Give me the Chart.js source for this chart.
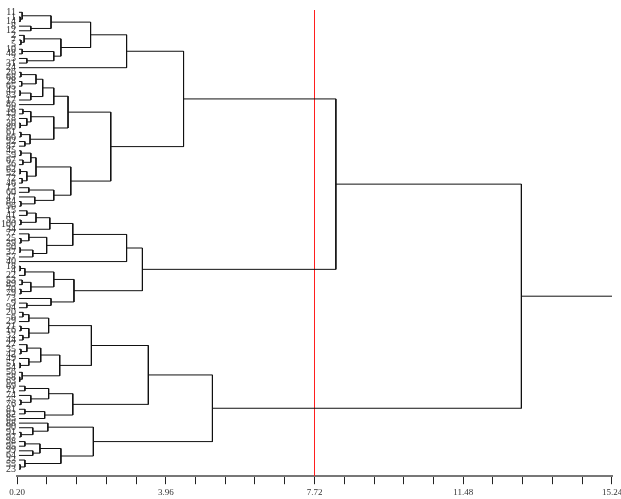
<!DOCTYPE html>
<html>
<head>
<meta charset="utf-8">
<script src="https://cdn.jsdelivr.net/npm/chart.js@4.4.0/dist/chart.umd.min.js"></script>
<style>
  html, body { margin: 0; padding: 0; background: #fff; }
  #wrap { width: 621px; height: 499px; }
</style>
</head>
<body>
<div id="wrap"><canvas id="dendro"></canvas></div>
<script>
// leaf labels, top to bottom
var leafLabels = [
  '11','1','14','8','12','2','7','5','10','48','3','31','24',
  '26','68','28','65','43','83','17','86','38','19','78','30','80','61','66','92','87',
  '45','59','67','36','62','52','72','46','13','60','47','84','96',
  '15','41','93','100','34','77','25','39','50','37','57','40',
  '18','4','22','53','89','70','79','73','9','94',
  '20','6','29','21','16','32','44','27','35','42','49','51','54','56','58','63',
  '69','71','74','75','76','81','82','85',
  '88','90','91','97','98','95','99','64','33','55','23'
];

// merges: [first leaf, first leaf of lower child, last leaf, height]
var merges = [
  [0,65,99,12.95],
  [0,43,64,8.26], [65,89,99,5.14],
  [0,13,42,4.41], [43,55,64,3.37],
  [0,12,12,2.97], [0,5,11,2.06], [0,3,4,1.06], [0,1,2,0.33], [1,2,2,0.28], [3,4,4,0.55],
  [5,8,11,1.31], [5,6,7,0.38], [6,7,7,0.30], [8,10,11,1.13], [8,9,9,0.33], [10,11,11,0.45],
  [13,30,42,2.57], [13,21,29,1.49], [13,20,20,1.13], [13,17,19,0.85], [13,15,16,0.68],
  [13,14,14,0.30], [15,16,16,0.32], [17,19,19,0.55], [17,18,18,0.28],
  [21,26,29,1.13], [21,23,25,0.55], [21,22,22,0.35], [23,24,25,0.45], [24,25,25,0.28],
  [26,28,29,0.53], [26,27,27,0.30], [28,29,29,0.40],
  [30,38,42,1.56], [30,34,37,0.68], [30,32,33,0.55], [30,31,31,0.30], [32,33,33,0.35],
  [34,36,37,0.45], [34,35,35,0.28], [36,37,37,0.33],
  [38,40,42,1.13], [38,39,39,0.50], [40,41,42,0.65], [41,42,42,0.30],
  [43,54,54,2.97], [43,48,53,1.61], [43,47,47,1.03], [43,45,46,0.68], [43,44,44,0.45],
  [45,46,46,0.30], [48,51,53,0.95], [48,49,50,0.50], [49,50,50,0.30], [51,53,53,0.60],
  [51,52,52,0.28],
  [55,62,64,1.64], [55,58,61,1.13], [55,57,57,0.40], [55,56,56,0.28], [58,60,61,0.55],
  [58,59,59,0.33], [60,61,61,0.30], [62,63,64,1.06], [63,64,64,0.45],
  [65,81,88,3.52], [65,72,80,2.08], [65,68,71,1.00], [65,67,67,0.50], [65,66,66,0.35],
  [68,70,71,0.50], [68,69,69,0.30], [70,71,71,0.35],
  [72,78,80,1.28], [72,75,77,0.80], [72,73,74,0.45], [73,74,74,0.30], [75,76,77,0.50],
  [76,77,77,0.28], [78,79,80,0.33], [79,80,80,0.27],
  [81,86,88,1.61], [81,83,85,1.00], [81,82,82,0.40], [83,84,85,0.55], [84,85,85,0.30],
  [86,88,88,0.90], [86,87,87,0.40],
  [89,93,99,2.13], [89,90,92,0.98], [90,91,92,0.60], [91,92,92,0.30],
  [93,97,99,1.31], [93,95,96,0.78], [93,94,94,0.40], [95,96,96,0.60],
  [97,98,99,0.40], [98,99,99,0.28]
];

var leafHeight = 0.25;
var cutHeight = 7.72;
var axisMin = 0.20, axisMax = 15.24, axisStep = 0.752;
var tickLabels = ['0.20', '3.96', '7.72', '11.48', '15.24'];

var nodes = {};
merges.forEach(function(m){ nodes[m[0] + '-' + m[2]] = m; });

function link(points, color) {
  return {
    data: points,
    borderColor: color,
    borderWidth: 1,
    pointRadius: 0,
    showLine: true,
    fill: false,
    tension: 0
  };
}

var datasets = [];
function place(a, c) {
  if (a === c) return { y: a, h: leafHeight };
  var m = nodes[a + '-' + c];
  var top = place(a, m[1] - 1);
  var bottom = place(m[1], c);
  datasets.push(link([
    { x: top.h, y: top.y }, { x: m[3], y: top.y },
    { x: m[3], y: bottom.y }, { x: bottom.h, y: bottom.y }
  ], '#111'));
  return { y: (top.y + bottom.y) / 2, h: m[3] };
}
var root = place(0, leafLabels.length - 1);
datasets.push(link([{ x: root.h, y: root.y }, { x: axisMax, y: root.y }], '#111'));
datasets.push(link([{ x: cutHeight, y: -0.5 }, { x: cutHeight, y: leafLabels.length + 0.5 }], 'rgba(255,30,30,0.85)'));

new Chart(document.getElementById('dendro'), {
  type: 'scatter',
  data: { datasets: datasets },
  options: {
    responsive: true,
    maintainAspectRatio: false,
    animation: false,
    layout: { padding: { top: 10, right: 0, bottom: -2, left: 0 } },
    plugins: { legend: { display: false }, tooltip: { enabled: false } },
    scales: {
      x: {
        type: 'linear',
        min: axisMin,
        max: axisMax,
        afterBuildTicks: function(s) {
          var t = [];
          for (var k = 0; k <= 20; k++) t.push({ value: axisMin + k * axisStep });
          s.ticks = t;
        },
        afterFit: function(s) { s.paddingRight = 9; },
        ticks: {
          autoSkip: false,
          maxRotation: 0,
          padding: 3,
          color: '#333',
          font: { family: 'Liberation Serif', size: 9 },
          callback: function(v, i) { return i % 5 === 0 ? tickLabels[i / 5] : ''; }
        },
        grid: { drawOnChartArea: false, tickLength: 8, color: '#222' },
        border: { color: '#777', width: 2 }
      },
      y: {
        type: 'linear',
        reverse: true,
        min: -0.5,
        max: leafLabels.length + 0.5,
        afterBuildTicks: function(s) {
          s.ticks = leafLabels.map(function(_, i) { return { value: i }; });
        },
        ticks: {
          autoSkip: false,
          padding: 1,
          color: '#333',
          font: { family: 'Liberation Serif', size: 10 },
          callback: function(v) { return leafLabels[v]; }
        },
        grid: { display: false, drawTicks: false },
        border: { display: false }
      }
    }
  }
});
</script>
</body>
</html>
